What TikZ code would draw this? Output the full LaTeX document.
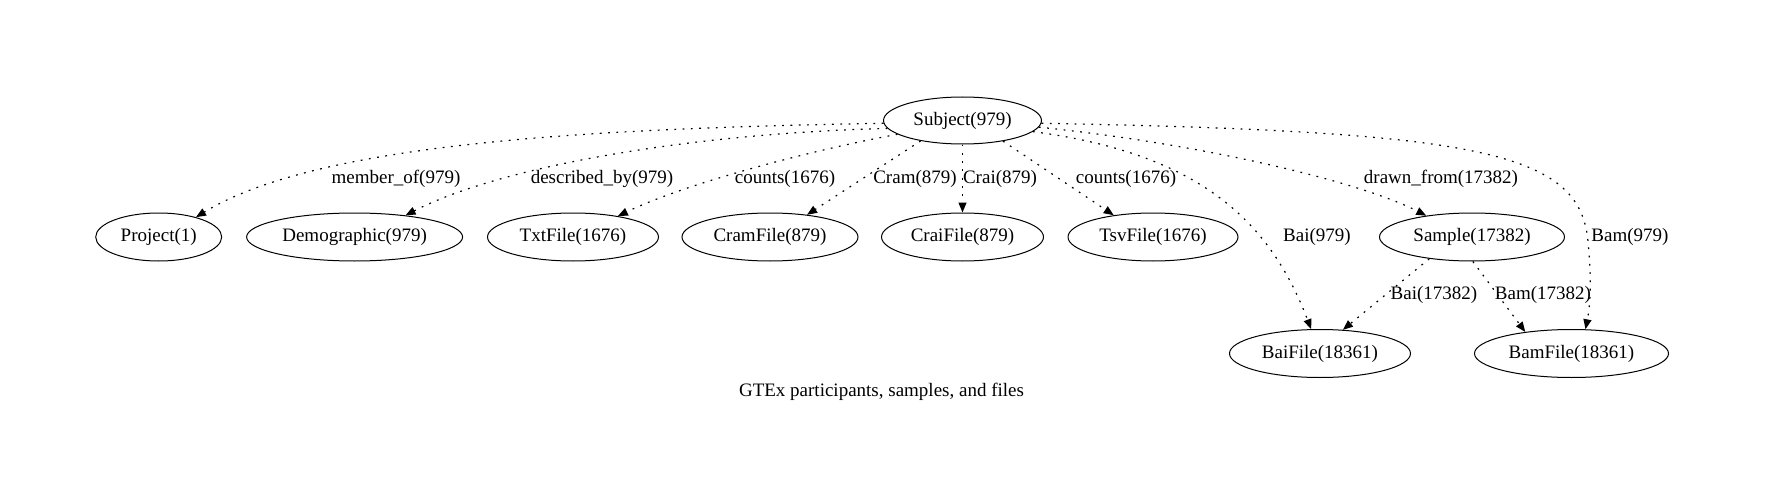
\documentclass[tikz,border=0pt]{standalone}
\usepackage{fontspec}
\setmainfont{Liberation Serif}
\usetikzlibrary{shapes.geometric,arrows.meta}
\begin{document}
\begin{tikzpicture}[x=1pt,y=-1pt,
 ent/.style={ellipse,draw,line width=1pt,inner sep=0pt,minimum height=48pt,font=\fontsize{19}{22}\selectfont},
 lbl/.style={inner sep=0pt,font=\fontsize{19}{22}\selectfont},
 rel/.style={line width=1.2pt,dash pattern=on 1.8pt off 6.5pt,-{Triangle[length=10pt,width=8pt]}}]
\useasboundingbox (0,-1.5) rectangle (1765,501.5);
\node[ent,minimum width=158pt,minimum height=47pt] (S) at (962.5,119) {Subject(979)};
\node[ent,minimum width=126pt] (P) at (158.7,235.5) {Project(1)};
\node[ent,minimum width=216pt] (D) at (354.6,235.5) {Demographic(979)};
\node[ent,minimum width=171pt] (T) at (573,235.5) {TxtFile(1676)};
\node[ent,minimum width=176pt] (Cr) at (770,235.5) {CramFile(879)};
\node[ent,minimum width=162pt] (Ci) at (962.5,235.5) {CraiFile(879)};
\node[ent,minimum width=170pt] (Ts) at (1153,235.5) {TsvFile(1676)};
\node[ent,minimum width=185pt] (Sa) at (1472,235.5) {Sample(17382)};
\node[ent,minimum width=181pt] (Bai) at (1320,352) {BaiFile(18361)};
\node[ent,minimum width=194pt] (Bam) at (1571.5,352) {BamFile(18361)};
\node[lbl] (cap) at (881.5,390.6) {GTEx participants, samples, and files};

\draw[rel] (S.182) .. controls (600,127) and (320,140) .. (P.28);
\draw[rel] (S.186) .. controls (690,132) and (500,165) .. (D.23);
\draw[rel] (S.192) .. controls (820,147) and (690,180) .. (T.25);
\draw[rel] (S.206) -- (Cr.31);
\draw[rel] (S.south) -- (Ci.north);
\draw[rel] (S.-27) -- (Ts.151);
\draw[rel] (S.-9) .. controls (1200,152) and (1270,220) .. (Bai.110);
\draw[rel] (S.-5) .. controls (1200,142) and (1360,180) .. (Sa.155);
\draw[rel] (S.-2) .. controls (1480,130) and (1580,150) .. (1588,240) .. controls (1592,280) and (1590,305) .. (Bam.60);
\draw[rel] (Sa.207) -- (Bai.46);
\draw[rel] (Sa.-88) -- (Bam.155);

\node[lbl] (l1) at (396,177) {member\_of(979)};
\node[lbl] (l2) at (602,177) {described\_by(979)};
\node[lbl] (l3) at (785,177) {counts(1676)};
\node[lbl] (l4) at (915,177) {Cram(879)};
\node[lbl] (l5) at (1000,177) {Crai(879)};
\node[lbl] (l6) at (1126,177) {counts(1676)};
\node[lbl] (l7) at (1441,177) {drawn\_from(17382)};
\node[lbl] (l8) at (1317,235) {Bai(979)};
\node[lbl] (l9) at (1630,235) {Bam(979)};
\node[lbl] (l10) at (1434,293) {Bai(17382)};
\node[lbl] (l11) at (1543,293) {Bam(17382)};
\end{tikzpicture}
\end{document}
